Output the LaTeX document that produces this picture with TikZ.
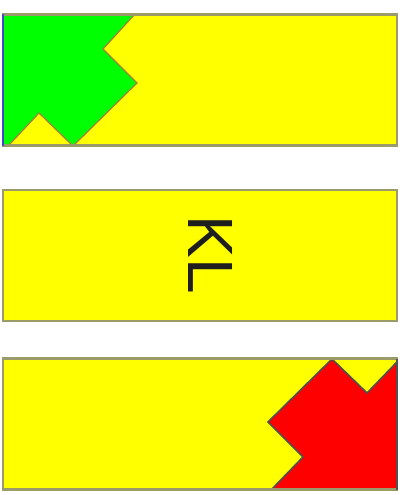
\documentclass[tikz,border=0pt]{standalone}
\usepackage{fontspec}
\setsansfont{Liberation Sans}
\definecolor{boxfill}{RGB}{255,255,0}
\definecolor{greenfill}{RGB}{0,255,0}
\definecolor{redfill}{RGB}{255,0,0}
\definecolor{boxedge}{RGB}{155,155,105}
\definecolor{greenedge}{RGB}{160,130,60}
\definecolor{rededge}{RGB}{80,80,80}
\definecolor{leftedge}{RGB}{70,70,200}
\begin{document}
\begin{tikzpicture}[x=1pt,y=-1pt]
    \tikzset{%
        b/.style={draw=boxedge, line width=2.2pt, fill=boxfill, minimum width=394pt, minimum height=131pt, inner sep=0pt, outer sep=0pt},
        fr/.style={draw=boxedge, line width=2.2pt},
        g/.style={draw=greenedge, line width=1.2pt},
        r/.style={draw=rededge, line width=1.6pt}%
        }
    \useasboundingbox (0,0) rectangle (406,495);
    \node[b](top)at(200,80){};
    \node[b](mid)at(200,255.5){};
    \node[b](bot)at(200,424){};
    % green corner
    \fill[greenfill] (3,14)--(135,14)--(103,49)--(137,83)--(73,146)--(39,113)--(8,146)--(3,146)--cycle;
    \draw[g] (135,14)--(103,49)--(137,83)--(73,146)--(39,113)--(8,146);
    % red corner
    \fill[redfill] (272,489)--(303,457)--(268,422)--(332,359)--(367,393)--(397,362)--(397,489)--cycle;
    \draw[r] (272,489)--(303,457)--(268,422)--(332,359)--(367,393)--(397,362);
    \draw[fr] (top.south west) rectangle (top.north east);
    \draw[fr] (bot.south west) rectangle (bot.north east);
    \draw[r] (bot.north east)--(bot.south east);
    \draw[leftedge, line width=1.5pt] (top.north west)--(top.south west);
    \node[rotate=-90, text={rgb,255:red,30;green,30;blue,30}, font=\sffamily\fontsize{64}{64}\selectfont](kl)at(211,255){KL};
\end{tikzpicture}
\end{document}
